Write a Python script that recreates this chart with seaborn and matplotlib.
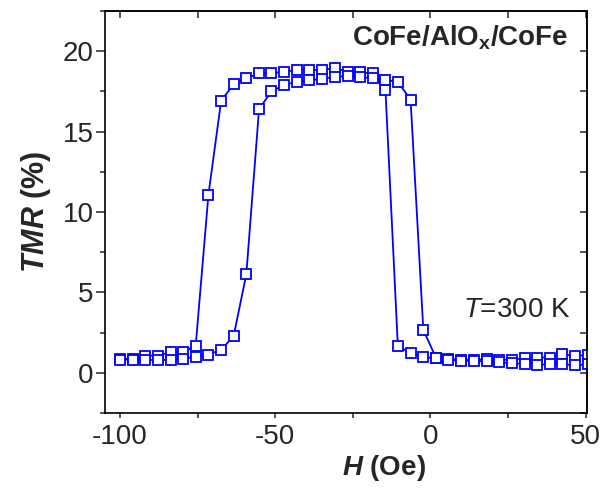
import numpy as np
import pandas as pd
import matplotlib
matplotlib.use("Agg")
import matplotlib.pyplot as plt
from matplotlib.ticker import MultipleLocator
import seaborn as sns

# field values (Oe)
H = [-100.0, -95.9, -91.9, -87.8, -83.7, -79.7, -75.6, -71.5, -67.4, -63.4,
     -59.3, -55.2, -51.2, -47.1, -43.0, -39.0, -34.9, -30.8, -26.7, -22.7,
     -18.6, -14.5, -10.5, -6.4, -2.3, 1.8, 5.8, 9.9, 14.0, 18.1,
     22.1, 26.2, 30.3, 34.3, 38.4, 42.5, 46.6, 50.6]

# sweep down branch (switches at -12 and -72 Oe)
tmr_down = [0.87, 0.87, 1.07, 1.07, 1.28, 1.28, 1.69, 11.08, 16.92, 17.94,
            18.31, 18.62, 18.62, 18.73, 18.83, 18.83, 18.83, 18.96, 18.71, 18.68,
            18.62, 17.60, 1.66, 1.23, 0.97, 0.91, 0.85, 0.82, 0.80, 0.85,
            0.80, 0.82, 0.90, 0.95, 0.95, 1.15, 1.05, 1.10]

# sweep up branch (switches at -57 and -2 Oe)
tmr_up = [0.82, 0.82, 0.80, 0.80, 0.80, 0.87, 1.01, 1.13, 1.44, 2.27,
          6.13, 16.40, 17.50, 17.90, 18.11, 18.20, 18.27, 18.42, 18.45, 18.40,
          18.31, 18.20, 18.10, 16.98, 2.66, 0.93, 0.80, 0.75, 0.72, 0.72,
          0.66, 0.60, 0.55, 0.50, 0.52, 0.52, 0.48, 0.52]

sns.set_style("ticks")
plt.rcParams["font.family"] = ["Liberation Sans", "DejaVu Sans"]
plt.rcParams["axes.unicode_minus"] = False
plt.rcParams["mathtext.fontset"] = "custom"
plt.rcParams["mathtext.rm"] = "Liberation Sans"
plt.rcParams["mathtext.it"] = "Liberation Sans:italic"
plt.rcParams["mathtext.bf"] = "Liberation Sans:bold"
plt.rcParams["mathtext.bfit"] = "Liberation Sans:italic:bold"

BLUE = "#0000ff"

fig = plt.figure(figsize=(6.05, 4.92), dpi=100)
ax = fig.add_axes([0.1736, 0.1606, 0.7961, 0.8170])

for tmr in (tmr_down, tmr_up):
    d = pd.DataFrame({"H": H, "TMR": tmr})
    sns.lineplot(data=d, x="H", y="TMR", ax=ax, sort=False, estimator=None,
                 color=BLUE, lw=1.3, marker="s", markersize=7,
                 markerfacecolor="white", markeredgecolor=BLUE,
                 markeredgewidth=1.3)

ax.set_xlim(-104.8, 50.3)
ax.set_ylim(-2.5, 22.5)

ax.xaxis.set_major_locator(MultipleLocator(50))
ax.xaxis.set_minor_locator(MultipleLocator(25))
ax.yaxis.set_major_locator(MultipleLocator(5))
ax.yaxis.set_minor_locator(MultipleLocator(2.5))

for s in ax.spines.values():
    s.set_linewidth(1.2)
    s.set_color("black")

ax.tick_params(axis="x", which="both", direction="out", length=3.6, width=1.1,
               labelsize=20, pad=4)
ax.tick_params(axis="y", which="major", direction="out", length=6.3, width=1.1,
               labelsize=20, pad=2)
ax.tick_params(axis="y", which="minor", direction="out", length=3.6, width=1.1)

# inward ticks on top and right
top = ax.secondary_xaxis("top")
top.xaxis.set_major_locator(MultipleLocator(25))
top.tick_params(direction="in", length=5, width=1.1, labeltop=False)
right = ax.secondary_yaxis("right")
right.yaxis.set_major_locator(MultipleLocator(2.5))
right.tick_params(direction="in", length=5, width=1.1, labelright=False)
top.spines["top"].set_linewidth(1.2)
right.spines["right"].set_linewidth(1.2)

ax.set_xlabel(r"$\mathbfit{H}$ (Oe)", fontsize=20, fontweight="bold")
ax.set_ylabel(r"$\mathbfit{TMR}$ (%)", fontsize=22, fontweight="bold")
ax.xaxis.set_label_coords(0.58, -0.10)
ax.yaxis.set_label_coords(-0.108, 0.5)

ax.text(0.962, 0.915, r"CoFe/AlO$_\mathbf{x}$/CoFe", transform=ax.transAxes,
        ha="right", va="baseline", fontsize=20, fontweight="bold")
ax.text(0.966, 0.239, r"$T$=300 K", transform=ax.transAxes,
        ha="right", va="baseline", fontsize=20)

fig.savefig("out.png", dpi=100)
